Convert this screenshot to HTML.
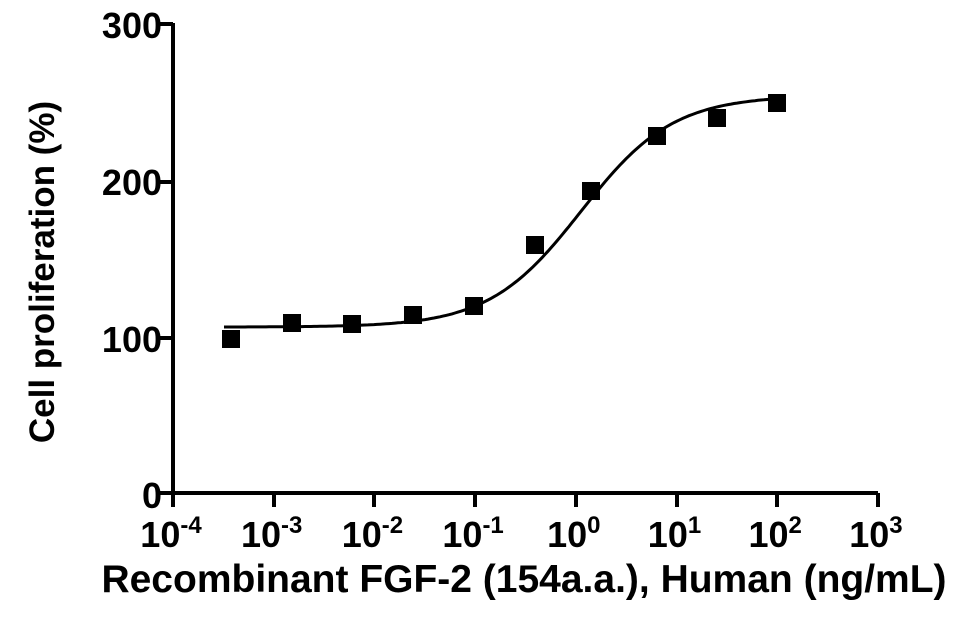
<!DOCTYPE html>
<html><head><meta charset="utf-8"><style>
body{margin:0;background:#fff;}
svg text{font-family:"Liberation Sans",Arial,sans-serif;font-weight:bold;fill:#000;}
</style></head><body>
<svg id="s" width="970" height="615" viewBox="0 0 970 615" xmlns="http://www.w3.org/2000/svg">
<g stroke="#000" stroke-width="4" fill="none">
<path d="M173 23 V493 H878"/>
<path d="M160 24 H173 M160 182 H173 M160 338 H173 M160 493 H173"/>
<path d="M173 493 V507 M274 493 V507 M374 493 V507 M475 493 V507 M576 493 V507 M677 493 V507 M777 493 V507 M878 493 V507"/>
</g>
<g font-size="36" text-anchor="end">
<text x="162" y="38">300</text><text x="162" y="195">200</text><text x="162" y="352">100</text><text x="162" y="508">0</text>
</g>
<g font-size="36" text-anchor="middle" id="xl"></g>
<text x="524" y="592" font-size="39" text-anchor="middle">Recombinant FGF-2 (154a.a.), Human (ng/mL)</text>
<text transform="translate(54,272) rotate(-90)" font-size="35" text-anchor="middle">Cell proliferation (%)</text>
<path id="c" stroke="#000" stroke-width="3" fill="none"/>
<g fill="#000" id="m"></g>
</svg>
<script>
var ns="http://www.w3.org/2000/svg";
var ex=["-4","-3","-2","-1","0","1","2","3"];
var xl=document.getElementById("xl");
ex.forEach(function(e,i){var x=173+i*100.7;var t=document.createElementNS(ns,"text");t.setAttribute("x",x-2);t.setAttribute("y",547);
t.innerHTML='10<tspan font-size="24" dy="-14">'+e+'</tspan>';xl.appendChild(t);});
var d="";for(var px=224;px<=777;px+=3){var lx=(px-576)/100.7;var v=106+148/(1+Math.pow(10,(0.05-lx)*0.95));var py=493-v*1.565;d+=(d?"L":"M")+px+" "+py.toFixed(1);}
document.getElementById("c").setAttribute("d",d);
var pts=[[231,339],[292,323],[352,324],[413,315],[474,306],[535,245],[591,191],[657,136],[717,118],[777,103]];
var m=document.getElementById("m");
pts.forEach(function(p){var r=document.createElementNS(ns,"rect");r.setAttribute("x",p[0]-9);r.setAttribute("y",p[1]-9);r.setAttribute("width",18);r.setAttribute("height",18);m.appendChild(r);});
</script>
</body></html>
